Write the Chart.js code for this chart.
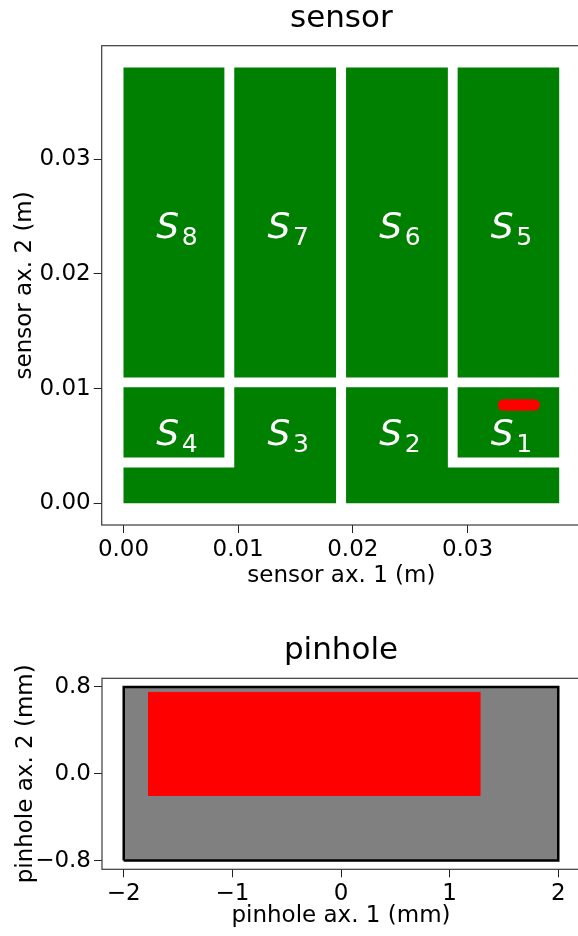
<!DOCTYPE html>
<html>
<head>
<meta charset="utf-8">
<script src="https://cdn.jsdelivr.net/npm/chart.js@4.4.0/dist/chart.umd.min.js"></script>
<style>
  html, body { margin: 0; padding: 0; background: #fff; overflow: hidden; }
  #figure { position: relative; width: 578px; height: 936px; overflow: hidden; background: #fff; }
  #figure canvas { position: absolute; left: 0; }
  #sensor { top: 0; }
  #pinhole { top: 600px; }
</style>
</head>
<body>
<div id="figure">
  <canvas id="sensor" width="640" height="600"></canvas>
  <canvas id="pinhole" width="640" height="336"></canvas>
</div>
<script>
// ---------- sensor layout (metres) ----------
const pixelIds = [1, 2, 3, 4, 5, 6, 7, 8];
// polygon vertices of each sensor pixel, closed
const pixelX = [
  [0.02914, 0.0380, 0.0380, 0.02914, 0.02914],                    // S1
  [0.01941, 0.02829, 0.02829, 0.0380, 0.0380, 0.01941, 0.01941],  // S2 (L-shape)
  [0.00966, 0.01854, 0.01854, 0.0, 0.0, 0.00966, 0.00966],        // S3 (L-shape)
  [0.0, 0.0088, 0.0088, 0.0, 0.0],                                // S4
  [0.02914, 0.0380, 0.0380, 0.02914, 0.02914],                    // S5
  [0.01941, 0.02829, 0.02829, 0.01941, 0.01941],                  // S6
  [0.00966, 0.01854, 0.01854, 0.00966, 0.00966],                  // S7
  [0.0, 0.0088, 0.0088, 0.0, 0.0]                                 // S8
];
const pixelY = [
  [0.00398, 0.00398, 0.01012, 0.01012, 0.00398],
  [0.01012, 0.01012, 0.00311, 0.00311, 0.0, 0.0, 0.01012],
  [0.01012, 0.01012, 0.0, 0.0, 0.00311, 0.00311, 0.01012],
  [0.00398, 0.00398, 0.01012, 0.01012, 0.00398],
  [0.01096, 0.01096, 0.0380, 0.0380, 0.01096],
  [0.01096, 0.01096, 0.0380, 0.0380, 0.01096],
  [0.01096, 0.01096, 0.0380, 0.0380, 0.01096],
  [0.01096, 0.01096, 0.0380, 0.0380, 0.01096]
];
// label anchors (centre x, baseline y)
const labelX = [0.03357, 0.02385, 0.0141, 0.0044, 0.03357, 0.02385, 0.0141, 0.0044];
const labelY = [0.00509, 0.00509, 0.00509, 0.00509, 0.0231, 0.0231, 0.0231, 0.0231];
// projected pinhole image on the sensor
const spotX = [0.03315, 0.03581];
const spotY = [0.00856, 0.00856];

const sensorRange = [-0.0019, 0.0399];
const sensorTicks = [0, 0.01, 0.02, 0.03];
const sensorTickLabels = ['0.00', '0.01', '0.02', '0.03'];

// ---------- pinhole (mm) ----------
const apertureX = [-2, 2, 2, -2, -2];
const apertureY = [-0.8, -0.8, 0.8, 0.8, -0.8];
const openX = [-1.77, 1.28, 1.28, -1.77, -1.77];
const openY = [-0.20, -0.20, 0.75, 0.75, -0.20];

const pinXRange = [-2.2, 2.2];
const pinYRange = [-0.88, 0.88];
const pinXTicks = [-2, -1, 0, 1, 2];
const pinXTickLabels = ['\u22122', '\u22121', '0', '1', '2'];
const pinYTicks = [-0.8, 0, 0.8];
const pinYTickLabels = ['\u22120.8', '0.0', '0.8'];

const FONT = "'DejaVu Sans', sans-serif";
const GREEN = '#008000';

const toPoints = (xs, ys) => xs.map((x, i) => ({ x, y: ys[i] }));

function makeScale(range, tickVals, tickLabels, title, fit, isX, titlePad) {
  return {
    type: 'linear',
    min: range[0], max: range[1],
    afterBuildTicks: s => { s.ticks = tickVals.map(v => ({ value: v })); },
    afterFit: s => { if (isX) s.height = fit; else s.width = fit; },
    ticks: {
      callback: (v, i) => tickLabels[i],
      font: { family: FONT, size: 23 }, color: '#000',
      padding: 3, maxRotation: 0, autoSkip: false
    },
    grid: { display: true, drawOnChartArea: false, drawTicks: true, tickLength: 8, tickColor: '#222', tickWidth: 1 },
    border: { display: false },
    title: {
      display: true, text: title, color: '#000',
      font: { family: FONT, size: 23, lineHeight: 1 },
      padding: titlePad
    }
  };
}

// axes frame + title
const framePlugin = {
  id: 'frame',
  afterDraw(chart, args, opts) {
    const { ctx, chartArea: a } = chart;
    ctx.save();
    ctx.strokeStyle = '#3a3a3a';
    ctx.lineWidth = 1.2;
    ctx.strokeRect(a.left, a.top, a.right - a.left, a.bottom - a.top);
    ctx.fillStyle = '#000';
    ctx.font = `31px ${FONT}`;
    ctx.textAlign = 'center';
    ctx.textBaseline = 'alphabetic';
    ctx.fillText(opts.text, (a.left + a.right) / 2, a.top - 19);
    ctx.restore();
  }
};

const pixelLabelPlugin = {
  id: 'pixelLabels',
  afterDatasetsDraw(chart) {
    const { ctx, scales: { x, y } } = chart;
    ctx.save();
    ctx.fillStyle = '#fff';
    ctx.textBaseline = 'alphabetic';
    ctx.textAlign = 'left';
    pixelIds.forEach((id, i) => {
      const px = x.getPixelForValue(labelX[i]) + 3;
      const py = y.getPixelForValue(labelY[i]);
      const big = `italic 36px ${FONT}`, small = `25px ${FONT}`;
      ctx.font = big;
      const wS = ctx.measureText('S').width;
      ctx.font = small;
      const wN = ctx.measureText(String(id)).width;
      const gap = 2.5;
      const x0 = px - (wS + gap + wN) / 2;
      ctx.font = big;
      ctx.fillText('S', x0, py);
      ctx.font = small;
      ctx.fillText(String(id), x0 + wS + gap, py + 6.7);
    });
    ctx.restore();
  }
};

const common = {
  responsive: false,
  animation: false,
  devicePixelRatio: 1,
  events: [],
  plugins: { legend: { display: false }, tooltip: { enabled: false } }
};

// ---------- sensor chart ----------
const sensorSets = pixelIds.map((id, i) => ({
  data: toPoints(pixelX[i], pixelY[i]),
  showLine: true, fill: 'shape', tension: 0,
  backgroundColor: GREEN, borderColor: 'rgba(0,0,0,0)', borderWidth: 1,
  pointRadius: 0, order: 2
}));
sensorSets.push({
  data: toPoints(spotX, spotY),
  showLine: true, fill: false, tension: 0,
  borderColor: '#ff0000', borderWidth: 11.5, borderCapStyle: 'round',
  pointRadius: 0, order: 1
});

new Chart(document.getElementById('sensor'), {
  type: 'scatter',
  data: { datasets: sensorSets },
  options: Object.assign({}, common, {
    layout: { padding: { top: 45.7, right: 59, bottom: 0, left: 0 } },
    scales: {
      x: makeScale(sensorRange, sensorTicks, sensorTickLabels, 'sensor ax. 1 (m)', 75, true, { top: 0, bottom: 12.5 }),
      y: makeScale(sensorRange, sensorTicks, sensorTickLabels, 'sensor ax. 2 (m)', 101.7, false, { top: 13.5, bottom: 0 })
    },
    plugins: Object.assign({}, common.plugins, { frame: { text: 'sensor' } })
  }),
  plugins: [framePlugin, pixelLabelPlugin]
});

// ---------- pinhole chart ----------
new Chart(document.getElementById('pinhole'), {
  type: 'scatter',
  data: {
    datasets: [
      {
        data: toPoints(openX, openY),
        showLine: true, fill: 'shape', tension: 0,
        backgroundColor: '#ff0000', borderColor: '#ff0000', borderWidth: 1, borderJoinStyle: 'round',
        pointRadius: 0, order: 1
      },
      {
        data: toPoints(apertureX, apertureY),
        showLine: true, fill: 'shape', tension: 0,
        backgroundColor: '#808080', borderColor: '#000', borderWidth: 2.5,
        pointRadius: 0, order: 2
      }
    ]
  },
  options: Object.assign({}, common, {
    layout: { padding: { top: 78.3, right: 60, bottom: 0, left: 0 } },
    scales: {
      x: makeScale(pinXRange, pinXTicks, pinXTickLabels, 'pinhole ax. 1 (mm)', 66.7, true, { top: 0, bottom: 8.5 }),
      y: makeScale(pinYRange, pinYTicks, pinYTickLabels, 'pinhole ax. 2 (mm)', 102, false, { top: 14.5, bottom: 0 })
    },
    plugins: Object.assign({}, common.plugins, { frame: { text: 'pinhole' } })
  }),
  plugins: [framePlugin]
});
</script>
</body>
</html>
